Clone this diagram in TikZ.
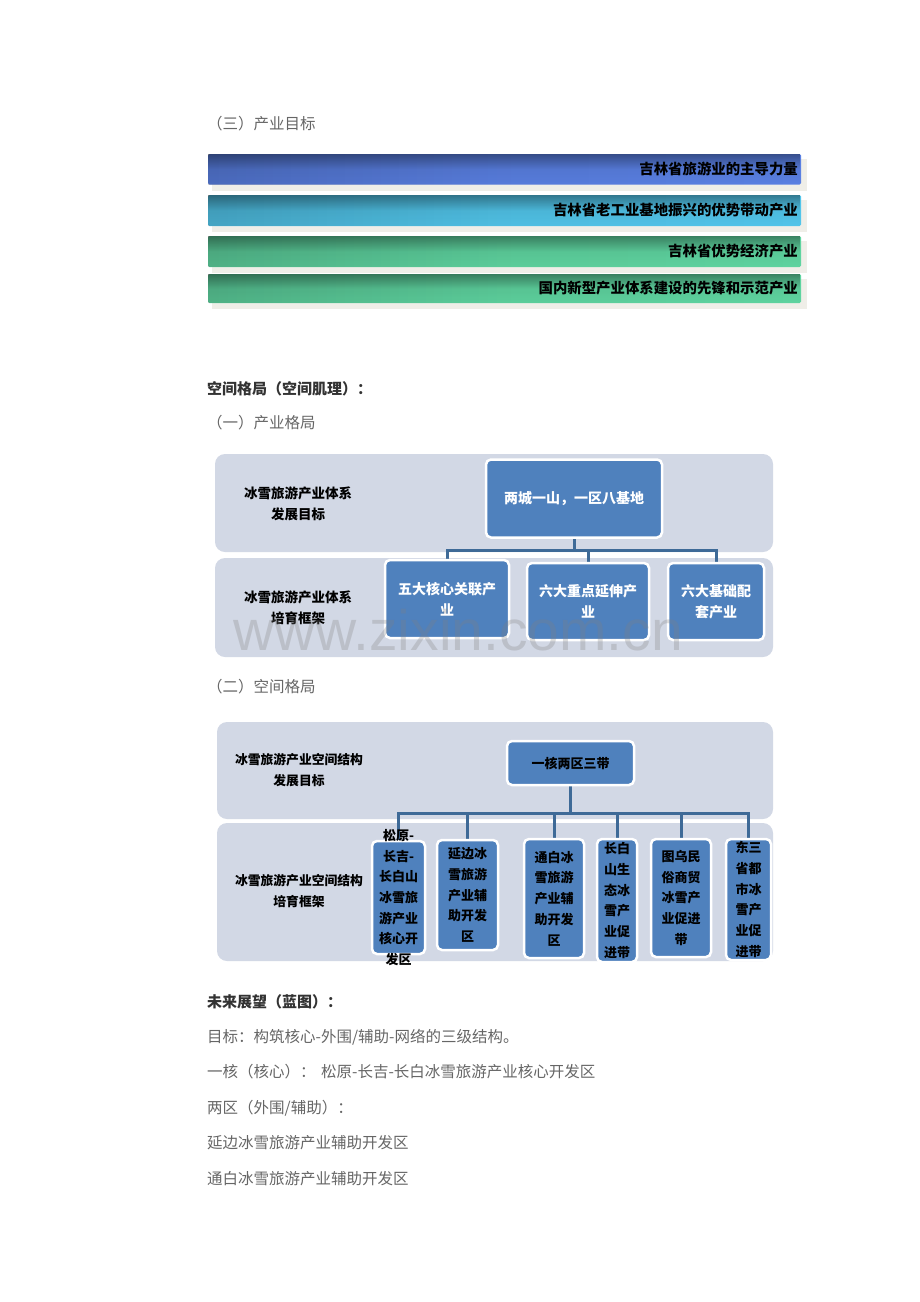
\documentclass[tikz,border=0pt]{standalone}
\usepackage{fontspec}
\setmainfont{Noto Sans CJK SC}
\newfontfamily\wmfont{Liberation Sans}
\usetikzlibrary{fadings}
\definecolor{bodygray}{HTML}{666666}
\definecolor{headgray}{HTML}{333333}
\definecolor{panelc}{HTML}{D2D8E5}
\definecolor{boxblue}{HTML}{4F81BD}
\definecolor{connc}{HTML}{3E6A97}
\definecolor{barshadow}{HTML}{EFEEE8}
\definecolor{barA}{HTML}{5A80E2}
\definecolor{barB}{HTML}{52C5EA}
\definecolor{barC}{HTML}{5FD4A0}
\tikzfading[name=fadetop, top color=transparent!62, bottom color=transparent!100, middle color=transparent!95]
\tikzfading[name=fadeleft, left color=transparent!84, right color=transparent!100, middle color=transparent!97]
\tikzset{
  bodytext/.style={anchor=west, inner sep=0, text=bodygray, font=\fontsize{15.5}{18}\selectfont},
  headtext/.style={anchor=west, inner sep=0, text=headgray, font=\fontsize{15}{18}\selectfont\bfseries},
  bartext/.style={anchor=east, inner sep=0, text=black, font=\fontsize{14.4}{17}\selectfont\bfseries},
  panel/.style={fill=panelc, rounded corners=10pt},
  bbox/.style={draw=white, line width=2.5pt, fill=boxblue, rounded corners=5pt, inner sep=0},
  rowlabel/.style={align=center, inner sep=0, text=black, font=\fontsize{13.5}{21}\selectfont\bfseries},
  rowlabelb/.style={align=center, inner sep=0, text=black, font=\fontsize{12.8}{21}\selectfont\bfseries},
  wtext/.style={align=center, inner sep=0, text=white, font=\fontsize{14}{21}\selectfont\bfseries},
  dtext/.style={align=center, inner sep=0, text=black, font=\fontsize{13}{20.7}\selectfont\bfseries},
  conn/.style={draw=connc, line width=3pt},
}
\newcommand\goalbar[5]{%
  \fill[barshadow] (212,#1+5) rectangle (807,#2+6);
  \fill[#3, rounded corners=1.5pt] (208,#1) rectangle (801,#2);
  \fill[black, path fading=fadeleft] (208,#1) rectangle (801,#2);
  \fill[black, path fading=fadetop] (208,#1) rectangle (801,#2);
  \node[bartext] (#4) at (798,{(#1+#2)/2}) {#5};
}
\begin{document}
\begin{tikzpicture}[x=1pt,y=-1pt]
\useasboundingbox[fill=white] (0,0) rectangle (920,1302);

% ---------- (三) 产业目标 ----------
\node[bodytext] (h3) at (207,124) {（三）产业目标};
\goalbar{154}{184.5}{barA}{g1}{吉林省旅游业的主导力量}
\goalbar{195}{226}{barB}{g2}{吉林省老工业基地振兴的优势带动产业}
\goalbar{236}{267}{barC}{g3}{吉林省优势经济产业}
\goalbar{274}{303}{barC}{g4}{国内新型产业体系建设的先锋和示范产业}

% ---------- headings ----------
\node[headtext] (hs) at (207,389) {空间格局（空间肌理）：};
\node[bodytext] (h1) at (207,423) {（一）产业格局};

% ---------- diagram 1 ----------
\fill[panel] (215,454) rectangle (773,552);
\fill[panel] (215,558) rectangle (773,657);
\node[rowlabel] (l1a) at (298,503.5) {冰雪旅游产业体系\\发展目标};
\node[rowlabel] (l1b) at (298,607.5) {冰雪旅游产业体系\\培育框架};

\coordinate (c1t) at (574,498.5);
\coordinate (c1a) at (447,599);
\coordinate (c1b) at (588,601.5);
\coordinate (c1c) at (716,601.5);
\coordinate (j1) at (574,550);
\draw[conn] (c1t) -- (j1);
\draw[conn] (c1a) |- (j1) -| (c1c);
\draw[conn] (c1b) -- (c1b |- j1);
\node[bbox, minimum width=176, minimum height=78] (t1) at (c1t) {};
\node[bbox, minimum width=124, minimum height=78] (p1) at (c1a) {};
\node[bbox, minimum width=122, minimum height=77] (p2) at (c1b) {};
\node[bbox, minimum width=96, minimum height=77] (p3) at (c1c) {};
\node[wtext] (t1t) at (t1.center) {两城一山，一区八基地};
\node[wtext] (p1t) at (p1.center) {五大核心关联产\\业};
\node[wtext] (p2t) at (p2.center) {六大重点延伸产\\业};
\node[wtext] (p3t) at (p3.center) {六大基础配\\套产业};
\node[anchor=base west, inner sep=0, text=gray, opacity=0.28, font=\wmfont\fontsize{57}{60}\selectfont] (wm) at (233,650) {www.zixin.com.cn};

% ---------- (二) 空间格局 ----------
\node[bodytext] (h2) at (207,687) {（二）空间格局};
\fill[panel] (217,722) rectangle (773,819);
\fill[panel] (217,823) rectangle (773,961);
\node[rowlabelb] (l2a) at (299,770.5) {冰雪旅游产业空间结构\\发展目标};
\node[rowlabelb] (l2b) at (299,891.5) {冰雪旅游产业空间结构\\培育框架};

\coordinate (tk) at (570.5,763);
\coordinate (j2) at (570.5,813);
\coordinate (c1) at (398.5,897.5);
\coordinate (c2) at (467.5,895);
\coordinate (c3) at (554,898.5);
\coordinate (c4) at (617,900.5);
\coordinate (c5) at (681,898);
\coordinate (c6) at (748.5,899.5);
\draw[conn] (tk) -- (j2);
\draw[conn] (c1) |- (j2) -| (c6);
\draw[conn] (c2) -- (c2 |- j2);
\draw[conn] (c3) -- (c3 |- j2);
\draw[conn] (c4) -- (c4 |- j2);
\draw[conn] (c5) -- (c5 |- j2);
\node[bbox, minimum width=127, minimum height=44] (k) at (tk) {};
\node[bbox, minimum width=53, minimum height=113] (s1) at (c1) {};
\node[bbox, minimum width=61, minimum height=110] (s2) at (c2) {};
\node[bbox, minimum width=60, minimum height=119] (s3) at (c3) {};
\node[bbox, minimum width=40, minimum height=123] (s4) at (c4) {};
\node[bbox, minimum width=60, minimum height=118] (s5) at (c5) {};
\node[bbox, minimum width=45, minimum height=121] (s6) at (c6) {};
\node[dtext] (kt) at (k.center) {一核两区三带};
\node[dtext] (s1t) at (s1.center) {松原-\\长吉-\\长白山\\冰雪旅\\游产业\\核心开\\发区};
\node[dtext] (s2t) at (s2.center) {延边冰\\雪旅游\\产业辅\\助开发\\区};
\node[dtext] (s3t) at (s3.center) {通白冰\\雪旅游\\产业辅\\助开发\\区};
\node[dtext] (s4t) at (s4.center) {长白\\山生\\态冰\\雪产\\业促\\进带};
\node[dtext] (s5t) at (s5.center) {图乌民\\俗商贸\\冰雪产\\业促进\\带};
\node[dtext] (s6t) at (s6.center) {东三\\省都\\市冰\\雪产\\业促\\进带};

% ---------- 未来展望 ----------
\node[headtext] (hf) at (207,1002) {未来展望（蓝图）：};
\node[bodytext] (f1) at (207,1037) {目标：构筑核心-外围/辅助-网络的三级结构。};
\node[bodytext] (f2) at (207,1072) {一核（核心）：};
\node[bodytext] (f2b) at (321,1072) {松原-长吉-长白冰雪旅游产业核心开发区};
\node[bodytext] (f3) at (207,1108) {两区（外围/辅助）：};
\node[bodytext] (f4) at (207,1143) {延边冰雪旅游产业辅助开发区};
\node[bodytext] (f5) at (207,1179) {通白冰雪旅游产业辅助开发区};
\end{tikzpicture}
\end{document}
